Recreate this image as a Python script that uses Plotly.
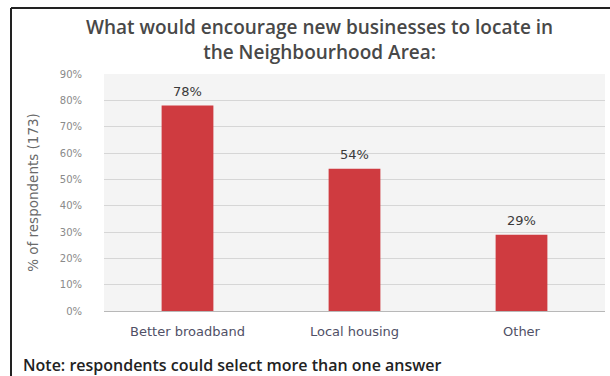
import plotly.graph_objects as go

categories = ["Better broadband", "Local housing", "Other"]
values = [78, 54, 29]
tick_vals = [0, 10, 20, 30, 40, 50, 60, 70, 80, 90]
tick_text = [f"{v}%" for v in tick_vals]

W, H = 610, 376
L, R, T, B = 104, 5, 74, 65
PW, PH = W - L - R, H - T - B


def px_x(x):
    return (x - L) / PW


def px_y(y):
    return (H - B - y) / PH


fig = go.Figure(
    go.Bar(
        x=categories,
        y=values,
        marker=dict(color="#cf3b40", line=dict(width=0)),
        width=0.31,
        hoverinfo="x+y",
    )
)

# value labels above each bar
for cat, val in zip(categories, values):
    fig.add_annotation(
        x=cat, y=val, xref="x", yref="y",
        text=f"{val}%",
        showarrow=False,
        yanchor="bottom",
        yshift=5,
        font=dict(family="DejaVu Sans", size=13, color="#3a3a3a"),
    )

fig.update_layout(
    width=W,
    height=H,
    margin=dict(l=L, r=R, t=T, b=B),
    paper_bgcolor="white",
    plot_bgcolor="#f4f4f4",
    showlegend=False,
    font=dict(family="DejaVu Sans"),
)

fig.update_yaxes(
    range=[0, 90],
    tickvals=tick_vals,
    ticktext=tick_text,
    tickfont=dict(size=10, color="#8a8a8a"),
    gridcolor="#d6d6d6",
    gridwidth=1,
    zeroline=False,
    showline=False,
    ticks="",
    ticklabelstandoff=21,
    title=dict(
        text="% of respondents (173)",
        font=dict(size=13.5, color="#6a6a6a"),
        standoff=18,
    ),
)

fig.update_xaxes(
    tickfont=dict(size=13, color="#505066"),
    showline=True,
    linecolor="#b8b8b8",
    linewidth=1,
    ticks="",
    showgrid=False,
    ticklabelstandoff=8,
)

fig.add_annotation(
    text="What would encourage new businesses to locate in<br>the Neighbourhood Area:",
    xref="paper", yref="paper",
    x=px_x(319), y=px_y(40),
    xanchor="center", yanchor="middle",
    showarrow=False,
    font=dict(family="Open Sans", size=19, weight=600, color="#484848"),
    align="center",
)

fig.add_annotation(
    text="Note: respondents could select more than one answer",
    xref="paper", yref="paper",
    x=px_x(21), y=px_y(365),
    xanchor="left", yanchor="middle",
    showarrow=False,
    font=dict(family="Open Sans", size=16, weight=600, color="#222222"),
)

# outer frame: left and top edges
fig.add_shape(type="line", xref="paper", yref="paper",
              x0=px_x(11), x1=px_x(11), y0=px_y(8), y1=px_y(376),
              line=dict(color="#222222", width=2))
fig.add_shape(type="line", xref="paper", yref="paper",
              x0=px_x(11), x1=px_x(610), y0=px_y(8), y1=px_y(8),
              line=dict(color="#222222", width=2))

fig.write_html("out.html")
